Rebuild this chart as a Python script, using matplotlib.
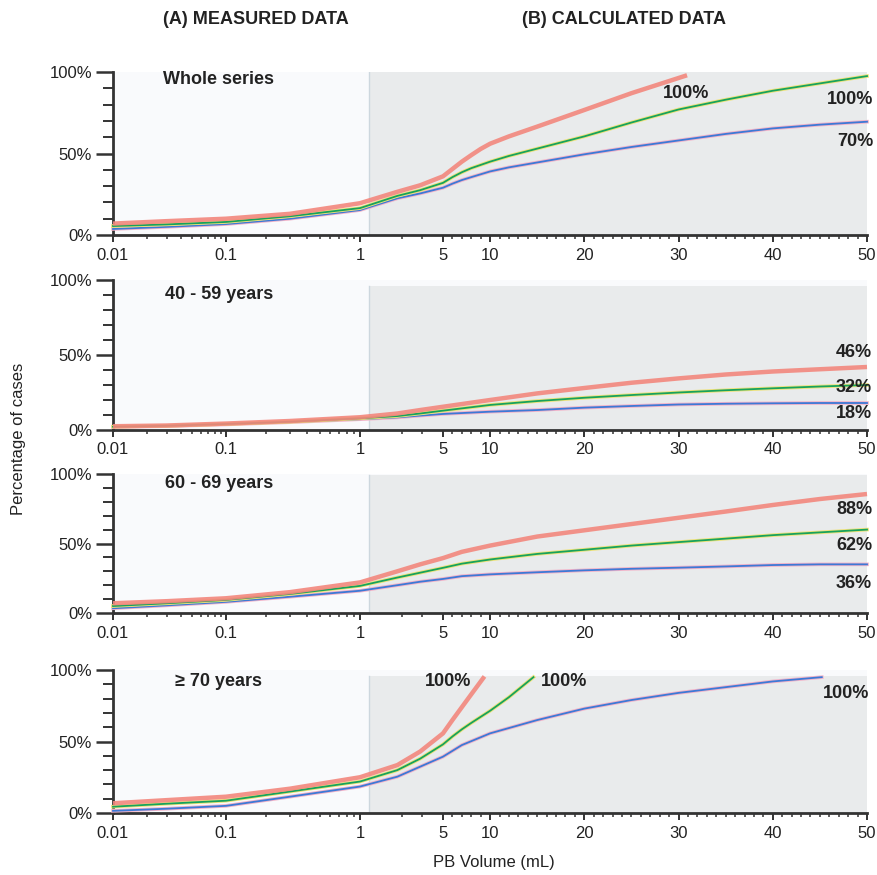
import numpy as np
import matplotlib
matplotlib.use('Agg')
import matplotlib.pyplot as plt
import matplotlib.patheffects as pe

# PB volume (mL) and percentage of cases
# Whole series
x1_red = [0.01, 0.03, 0.1, 0.3, 1, 2.8, 3.9, 5, 6, 7, 8, 9, 10, 12, 15, 20, 25, 30.9]
y1_red = [7, 8.5, 10, 13, 19.5, 26.5, 30.5, 36, 40.5, 45, 49, 52.8, 56, 60.5, 66.5, 76.7, 87, 98]
x1 = [0.01, 0.03, 0.1, 0.3, 1, 2.8, 3.9, 5, 6, 7, 8, 10, 12, 15, 20, 25, 30, 35, 40, 45, 50]
y1_green = [5.5, 6.5, 8, 11.5, 16.5, 24, 27.5, 32, 35.5, 38.5, 41, 45, 48.5, 53, 60.5,
            69, 77, 83, 88.5, 93, 97.5]
y1_blue = [3.7, 5, 6.7, 10, 15.3, 22.5, 25.5, 29, 31.5, 33.7, 35.5, 39, 41.5, 44.5, 49.5,
           54, 58, 62, 65.4, 67.7, 69.5]

# 40 - 59 years
x2 = [0.01, 0.03, 0.1, 0.3, 1, 2.8, 3.9, 5, 10, 15, 20, 25, 30, 35, 40, 45, 50]
y2_red = [2.5, 3, 4.3, 6, 8.5, 11, 13.3, 15.5, 20, 24.4, 28, 31.5, 34.4, 37, 39, 40.5, 42]
y2_green = [2.2, 2.8, 4, 5.5, 7.8, 9.3, 11, 12.9, 16.7, 19.3, 21.5, 23.3, 25, 26.5, 27.8, 29, 30]
y2_blue = [2, 2.6, 3.7, 5.2, 7.2, 8.4, 9.6, 10.7, 12.2, 13.3, 14.9, 16, 17, 17.5, 17.8, 18, 18]

# 60 - 69 years
x3 = [0.01, 0.03, 0.1, 0.3, 1, 2.8, 3.9, 5, 7, 10, 15, 20, 25, 30, 35, 40, 45, 50]
y3_red = [7, 8.5, 10.6, 15, 22, 30, 35, 39.5, 44, 48.5, 55, 59.5, 64, 68.5, 73, 77.7, 82, 85.6]
y3_green = [5, 7, 9.4, 13.7, 19.5, 25.5, 29, 32.5, 35.5, 38.5, 42.5, 45.5, 48.5, 51, 53.5,
            56, 58, 60]
y3_blue = [3.4, 5.5, 8, 11.7, 16, 20, 22.5, 24.5, 26.5, 27.8, 29.3, 30.7, 31.8, 32.6, 33.5,
           34.5, 35, 35]

# >= 70 years
x4_red = [0.01, 0.03, 0.1, 0.3, 1, 2.8, 3.9, 5, 6, 7, 8, 9.4]
y4_red = [6.8, 9, 11.4, 17, 25, 33.5, 43, 55.7, 65, 74, 83, 95.5]
x4_green = [0.01, 0.03, 0.1, 0.3, 1, 2.8, 3.9, 5, 6, 7, 8, 10, 12, 14.6]
y4_green = [4.4, 6.5, 8.6, 15, 22, 30, 38, 48, 53.5, 58.5, 63, 71.5, 81, 95]
x4_blue = [0.01, 0.03, 0.1, 0.3, 1, 2.8, 3.9, 5, 7, 10, 15, 20, 25, 30, 35, 40, 45.2]
y4_blue = [1.5, 3, 5, 11.4, 18.5, 25.4, 32.4, 39.4, 47.5, 55.7, 65, 73, 79, 84, 88, 92, 95]

panel_names = ['Whole series', '40 - 59 years', '60 - 69 years', '\u2265 70 years']
end_labels = [['100%', '100%', '70%'],
              ['46%', '32%', '18%'],
              ['88%', '62%', '36%'],
              ['100%', '100%', '100%']]

x_major = [0.01, 0.1, 1, 5, 10, 20, 30, 40, 50]
x_major_labels = ['0.01', '0.1', '1', '5', '10', '20', '30', '40', '50']

W, H = 877, 875
FONT = ['Liberation Sans', 'DejaVu Sans']
plt.rcParams['font.family'] = FONT

RED = '#f3877d'
GREEN = '#17a25c'
BLUE = '#3c79d6'


# x axis: log scale up to 1 mL, then linear (two pieces)
def fwd(x):
    x = np.asarray(x, dtype=float)
    lx = np.log10(np.clip(x, 1e-6, None))
    lo = np.interp(lx, [-2, -1, 0], [113, 226, 360])
    hi = np.interp(x, [1, 5, 50], [360, 443, 867])
    return np.where(x <= 1, lo, hi)


def inv(u):
    u = np.asarray(u, dtype=float)
    lo = 10 ** np.interp(u, [113, 226, 360], [-2, -1, 0])
    hi = np.interp(u, [360, 443, 867], [1, 5, 50])
    return np.where(u <= 360, lo, hi)


def fx(px):
    return px / W


def fy(py):
    return 1 - py / H


fig = plt.figure(figsize=(W / 100, H / 100), dpi=100, facecolor='white')

# top / bottom pixel rows of each panel
panel_rows = [(72, 235), (280, 430), (474, 613), (670, 813)]
shade_top = [100, 96, 99, 96]
series = [
    (x1_red, y1_red, x1, y1_green, x1, y1_blue),
    (x2, y2_red, x2, y2_green, x2, y2_blue),
    (x3, y3_red, x3, y3_green, x3, y3_blue),
    (x4_red, y4_red, x4_green, y4_green, x4_blue, y4_blue),
]

x_minor = ([0.02, 0.03, 0.04, 0.05, 0.06, 0.07, 0.08, 0.09,
            0.2, 0.3, 0.4, 0.5, 0.6, 0.7, 0.8, 0.9, 3, 4]
           + [v for v in range(6, 50) if v % 10 != 0])

for i, (top, bot) in enumerate(panel_rows):
    ax = fig.add_axes([fx(113), fy(bot), fx(867 - 113), (bot - top) / H])
    ax.set_xscale('function', functions=(fwd, inv))
    ax.set_xlim(0.01, 50)
    ax.set_ylim(0, 100)
    ax.set_facecolor('#f9fafc')

    ax.axvspan(1.43, 50, ymin=0, ymax=shade_top[i] / 100,
               color='#e9ebec', lw=0, zorder=0)
    ax.axvline(1.43, ymax=shade_top[i] / 100, color='#cdd7de', lw=1, zorder=0.5)

    xr, yr, xg, yg, xb, yb = series[i]
    ax.plot(xb, yb, color=BLUE, lw=1.3, zorder=3, clip_on=False,
            path_effects=[pe.Stroke(linewidth=2.6, foreground='#f2b3c8'), pe.Normal()])
    ax.plot(xg, yg, color=GREEN, lw=1.3, zorder=4, clip_on=False,
            path_effects=[pe.Stroke(linewidth=2.6, foreground='#eee27a'), pe.Normal()])
    ax.plot(xr, yr, color=RED, lw=3.2, alpha=0.9, zorder=5, clip_on=False,
            solid_capstyle='butt')

    for side in ['top', 'right']:
        ax.spines[side].set_visible(False)
    for side in ['left', 'bottom']:
        ax.spines[side].set_color('#333333')
        ax.spines[side].set_linewidth(2)

    ax.set_yticks([0, 50, 100], ['0%', '50%', '100%'])
    ax.set_yticks([10, 20, 30, 40, 60, 70, 80, 90], minor=True)
    ax.set_xticks(x_major, x_major_labels)
    ax.set_xticks(x_minor, minor=True)

    ax.tick_params(axis='y', which='major', length=12, width=1.8, pad=3,
                   labelsize=12, colors='#333333', labelcolor='#222222')
    ax.tick_params(axis='y', which='minor', length=7, width=1.4, colors='#333333')
    ax.tick_params(axis='x', which='major', length=5, width=1.4, pad=4,
                   labelsize=12, colors='#333333', labelcolor='#222222')
    ax.tick_params(axis='x', which='minor', length=3, width=1.1, colors='#333333')

# panel names
name_pos = [(163, 79), (165, 294), (165, 483), (175, 681)]
for name, (px, py) in zip(panel_names, name_pos):
    fig.text(fx(px), fy(py), name, fontsize=13, fontweight='bold',
             ha='left', va='center', color='#222222')

# values at the end of the curves (center x, center y)
label_pos = [[(686, 93), (850, 100), (855, 142)],
             [(854, 352), (854, 387), (854, 414)],
             [(854, 510), (854, 545), (854, 583)],
             [(448, 682), (564, 682), (846, 693)]]
for labels, positions in zip(end_labels, label_pos):
    for lab, (px, py) in zip(labels, positions):
        fig.text(fx(px), fy(py), lab, fontsize=13, fontweight='bold',
                 ha='center', va='center', color='#222222')

fig.text(fx(256), fy(20), '(A) MEASURED DATA', fontsize=13, fontweight='bold',
         ha='center', va='center', color='#222222')
fig.text(fx(624), fy(20), '(B) CALCULATED DATA', fontsize=13, fontweight='bold',
         ha='center', va='center', color='#222222')

fig.text(fx(19), fy(439), 'Percentage of cases', fontsize=12, rotation=90,
         ha='center', va='center', color='#222222')
fig.text(fx(494), fy(862), 'PB Volume (mL)', fontsize=12,
         ha='center', va='center', color='#222222')

fig.savefig('out.png', dpi=100, facecolor='white')
